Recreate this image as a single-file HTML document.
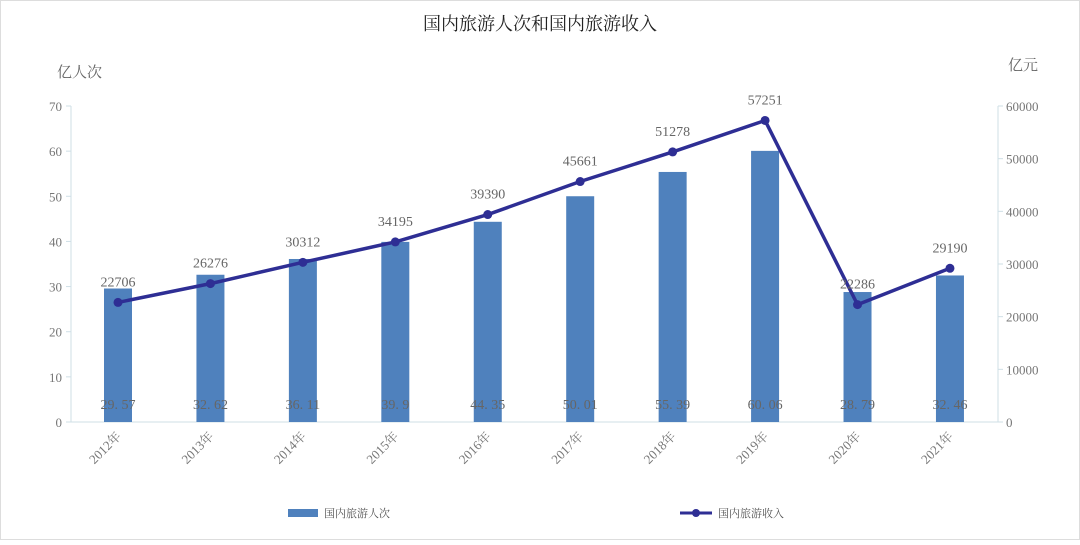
<!DOCTYPE html><html><head><meta charset="utf-8"><style>
body{margin:0;background:#fff;}
svg text{font-family:"Liberation Serif","Noto Serif CJK SC",serif;}
</style></head><body>
<svg width="1080" height="540" viewBox="0 0 1080 540" xmlns="http://www.w3.org/2000/svg">
<rect x="0.5" y="0.5" width="1079" height="539" fill="#fff" stroke="#ddd"/>
<text x="540" y="30" text-anchor="middle" font-size="18" fill="#222">国内旅游人次和国内旅游收入</text>
<text x="57" y="77" font-size="15" fill="#666">亿人次</text>
<text x="1008" y="70" font-size="15" fill="#666">亿元</text>
<g stroke="#cfdfe6" stroke-width="1">
<line x1="71" y1="106" x2="71" y2="422"/><line x1="998" y1="106" x2="998" y2="422"/>
<line x1="71" y1="422" x2="998" y2="422"/>
</g>
<g font-size="13" fill="#777" text-anchor="end" id="yl"></g>
<g font-size="13" fill="#777" id="yr"></g>
<g id="bars"></g>
<polyline id="ln" fill="none" stroke="#2e2e94" stroke-width="3.5" stroke-linejoin="round"/>
<g id="pts"></g>
<g id="lbl" font-size="14" fill="#666" text-anchor="middle"></g>
<g id="xl" font-size="13" fill="#777"></g>
<rect x="288" y="509" width="30" height="8" fill="#4f81bd"/>
<text x="324" y="517" font-size="11" fill="#555">国内旅游人次</text>
<line x1="680" y1="513" x2="712" y2="513" stroke="#2e2e94" stroke-width="3"/>
<circle cx="696" cy="513" r="4" fill="#2e2e94"/>
<text x="718" y="517" font-size="11" fill="#555">国内旅游收入</text>
</svg>
<script>
var ns="http://www.w3.org/2000/svg";
function el(p,t,a,txt){var e=document.createElementNS(ns,t);for(var k in a)e.setAttribute(k,a[k]);if(txt!=null)e.textContent=txt;document.getElementById(p).appendChild(e);return e;}
for(var i=0;i<=7;i++){var y=422-i*10*316/70;el("yl","text",{x:62,y:y+5},i*10);el("yl","line",{x1:66,x2:71,y1:y,y2:y,stroke:"#cfdfe6"});}
for(var i=0;i<=6;i++){var y=422-i*316/6;el("yr","text",{x:1006,y:y+5},i*10000);el("yr","line",{x1:998,x2:1003,y1:y,y2:y,stroke:"#cfdfe6"});}
var p=[29.57,32.62,36.11,39.9,44.35,50.01,55.39,60.06,28.79,32.46];
var r=[22706,26276,30312,34195,39390,45661,51278,57251,22286,29190];
var pts=[];
for(var i=0;i<10;i++){var cx=118+i*92.44;var h=p[i]*316/70;
el("bars","rect",{x:cx-14,y:422-h,width:28,height:h,fill:"#4f81bd"});
var ly=422-r[i]*316/60000;pts.push(cx+","+ly);
el("pts","circle",{cx:cx,cy:ly,r:4.5,fill:"#2e2e94"});
el("lbl","text",{x:cx,y:ly-16},r[i]);
el("lbl","text",{x:cx,y:409},(p[i]+"").replace(".",". "));
el("xl","text",{x:cx+4,y:437,"text-anchor":"end",transform:"rotate(-45 "+(cx+4)+" 437)"},(2012+i)+"年");}
document.getElementById("ln").setAttribute("points",pts.join(" "));
</script>
</body></html>
